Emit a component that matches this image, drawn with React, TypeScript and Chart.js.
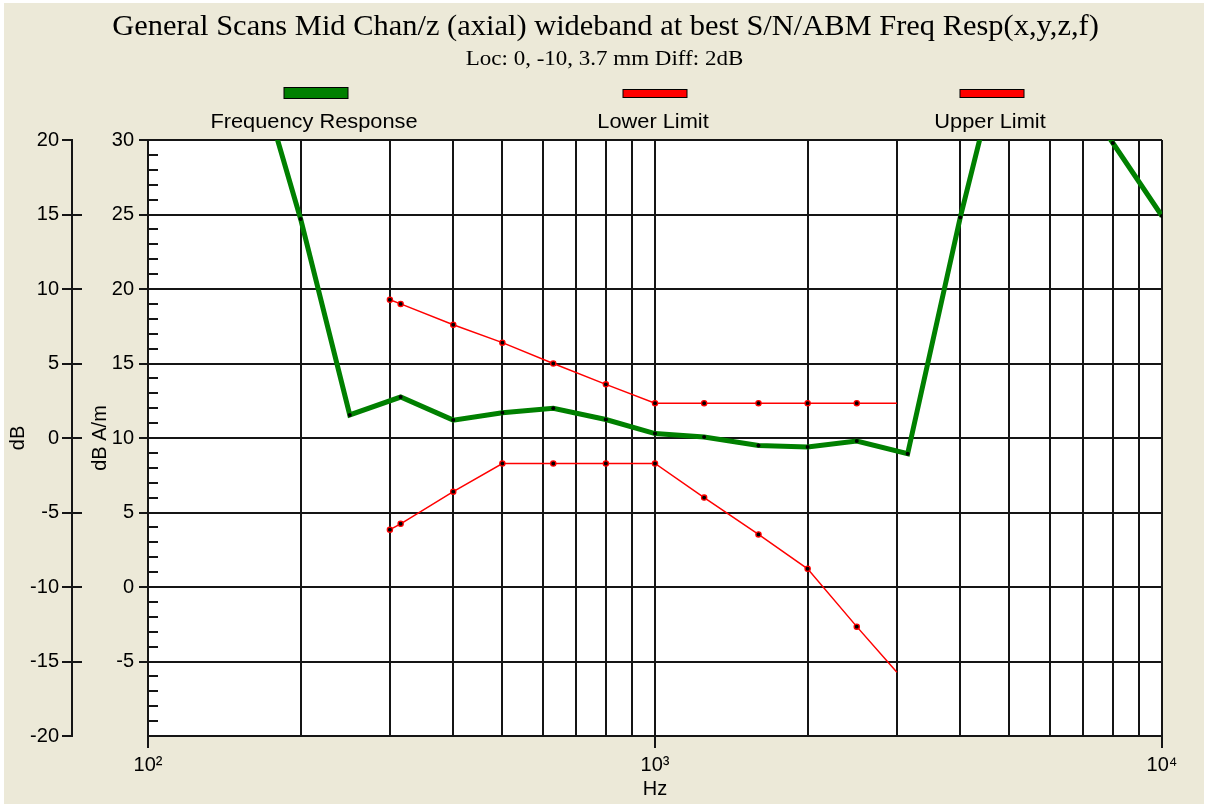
import React, { useEffect, useRef } from 'react';
import { Chart, registerables } from 'chart.js';

Chart.register(...registerables);

// ---------- data ----------
const chartTitle = 'General Scans Mid Chan/z (axial) wideband at best S/N/ABM Freq Resp(x,y,z,f)';
const chartSubtitle = 'Loc: 0, -10, 3.7 mm Diff: 2dB';

const seriesNames = ['Frequency Response', 'Lower Limit', 'Upper Limit'];

const responseHz = [160, 200, 250, 315, 400, 500, 630, 800, 1000, 1250, 1600, 2000, 2500, 3150, 4000, 5000, 6300, 8000, 10000];
const responseDb = [36, 24.7, 11.55, 12.75, 11.2, 11.7, 12.0, 11.24, 10.3, 10.07, 9.5, 9.4, 9.8, 8.94, 24.8, 38, 35, 29.8, 24.9];

const limitHz = [300, 315, 400, 500, 630, 800, 1000, 1250, 1600, 2000, 2500, 3000];
const lowerLimitDb = [3.85, 4.24, 6.4, 8.29, 8.29, 8.29, 8.29, 6.0, 3.53, 1.22, -2.66, -5.72];
const upperLimitDb = [19.28, 19.0, 17.6, 16.4, 15.0, 13.6, 12.34, 12.34, 12.34, 12.34, 12.34, 12.34];
const limitMarkerShown = [1, 1, 1, 1, 1, 1, 1, 1, 1, 1, 1, 0];

const xGridHz = [100, 200, 300, 400, 500, 600, 700, 800, 900, 1000, 2000, 3000, 4000, 5000, 6000, 7000, 8000, 9000, 10000];
const xDecadeLabels: Record<number, string> = { 100: '10²', 1000: '10³', 10000: '10⁴' };

const innerAxisMin = -10;
const innerAxisMax = 30;
const innerMajorStep = 5;
const outerAxisMin = -20;
const outerAxisMax = 20;
const outerStep = 5;

// ---------- style ----------
const BEIGE = '#ECE9D8';
const GRID = '#151515';
const GREEN = '#008000';
const RED = '#FF0000';
const SANS = '"Liberation Sans", Arial, sans-serif';
const SERIF = '"Liberation Serif", "Times New Roman", serif';

const legendCenters = [314, 653, 990];

function line(ctx: CanvasRenderingContext2D, x1: number, y1: number, x2: number, y2: number) {
  ctx.beginPath();
  ctx.moveTo(x1, y1);
  ctx.lineTo(x2, y2);
  ctx.stroke();
}

function stretchedText(ctx: CanvasRenderingContext2D, text: string, cx: number, cy: number, sx: number) {
  ctx.save();
  ctx.translate(cx, cy);
  ctx.scale(sx, 1);
  ctx.fillText(text, 0, 0);
  ctx.restore();
}

const backgroundPlugin = {
  id: 'bgPlugin',
  beforeDraw(chart: any) {
    const { ctx, width, height, chartArea } = chart;
    ctx.save();
    ctx.fillStyle = '#ffffff';
    ctx.fillRect(0, 0, width, height);
    ctx.fillStyle = BEIGE;
    ctx.fillRect(4, 3, width - 9, height - 3);
    ctx.fillStyle = '#ffffff';
    ctx.fillRect(chartArea.left, chartArea.top, chartArea.right - chartArea.left, chartArea.bottom - chartArea.top);
    ctx.restore();
  },
};

const axisExtrasPlugin = {
  id: 'axisExtras',
  beforeDatasetsDraw(chart: any) {
    const { ctx } = chart;
    const y = chart.scales.y;
    const y2 = chart.scales.y2;
    ctx.save();
    ctx.strokeStyle = GRID;
    ctx.lineWidth = 2;
    y.ticks.forEach((t: any) => {
      if (t.value % innerMajorStep !== 0) {
        const py = Math.round(y.getPixelForValue(t.value));
        line(ctx, y.right, py, y.right + 10, py);
      }
    });
    y2.ticks.forEach((t: any) => {
      if (t.value > y2.min && t.value < y2.max) {
        const py = Math.round(y2.getPixelForValue(t.value));
        line(ctx, y2.right, py, y2.right + 10, py);
      }
    });
    ctx.restore();
  },
};

const headerPlugin = {
  id: 'header',
  afterDraw(chart: any) {
    const { ctx, width } = chart;
    ctx.save();
    ctx.fillStyle = '#000';
    ctx.textAlign = 'center';
    ctx.textBaseline = 'middle';
    ctx.font = `29px ${SERIF}`;
    stretchedText(ctx, chartTitle, width / 2 + 1, 27, 1.05);
    ctx.font = `20px ${SERIF}`;
    stretchedText(ctx, chartSubtitle, width / 2, 60, 1.15);

    chart.data.datasets.forEach((ds: any, i: number) => {
      const cx = legendCenters[i] + 2;
      const h = i === 0 ? 11 : 8;
      const top = i === 0 ? 87.5 : 89.5;
      ctx.fillStyle = ds.borderColor;
      ctx.fillRect(cx - 32, top, 64, h);
      ctx.strokeStyle = '#000';
      ctx.lineWidth = 1;
      ctx.strokeRect(cx - 32, top, 64, h);
      ctx.fillStyle = '#000';
      ctx.font = `20px ${SANS}`;
      stretchedText(ctx, ds.label, legendCenters[i], 122, 1.09);
    });
    ctx.restore();
  },
};

function buildConfig(): any {
  const responsePts = responseHz.map((x, i) => ({ x, y: responseDb[i] }));
  const lowerPts = limitHz.map((x, i) => ({ x, y: lowerLimitDb[i] }));
  const upperPts = limitHz.map((x, i) => ({ x, y: upperLimitDb[i] }));
  const limitRadius = limitMarkerShown.map((s) => (s ? 2.6 : 0));

  const innerTicks: number[] = [];
  for (let v = innerAxisMin; v <= innerAxisMax; v++) innerTicks.push(v);

  return {
    type: 'line',
    data: {
      datasets: [
        {
          label: seriesNames[0],
          data: responsePts,
          borderColor: GREEN,
          backgroundColor: GREEN,
          borderWidth: 5,
          pointRadius: 2,
          pointBorderWidth: 0,
          pointBackgroundColor: '#000',
          tension: 0,
          yAxisID: 'y',
        },
        {
          label: seriesNames[1],
          data: lowerPts,
          borderColor: RED,
          backgroundColor: RED,
          borderWidth: 1.5,
          pointRadius: limitRadius,
          pointBorderWidth: 1.3,
          pointBorderColor: RED,
          pointBackgroundColor: '#000',
          tension: 0,
          yAxisID: 'y',
        },
        {
          label: seriesNames[2],
          data: upperPts,
          borderColor: RED,
          backgroundColor: RED,
          borderWidth: 1.5,
          pointRadius: limitRadius,
          pointBorderWidth: 1.3,
          pointBorderColor: RED,
          pointBackgroundColor: '#000',
          tension: 0,
          yAxisID: 'y',
        },
      ],
    },
    options: {
      animation: false,
      responsive: false,
      maintainAspectRatio: false,
      parsing: true,
      layout: { padding: { top: 140, right: 47, bottom: 0, left: 0 } },
      plugins: {
        legend: { display: false },
        title: { display: false },
        tooltip: { enabled: false },
      },
      scales: {
        x: {
          type: 'logarithmic',
          position: 'bottom',
          min: 100,
          max: 10000,
          afterBuildTicks: (scale: any) => {
            scale.ticks = xGridHz.map((v) => ({ value: v }));
          },
          afterFit: (scale: any) => {
            scale.height = 68;
          },
          grid: {
            color: GRID,
            lineWidth: 2,
            tickLength: 12,
            tickColor: (c: any) => (c.tick && xDecadeLabels[c.tick.value] ? GRID : 'transparent'),
          },
          border: { display: true, color: GRID, width: 2 },
          ticks: {
            autoSkip: false,
            maxRotation: 0,
            padding: 5,
            color: '#000',
            font: { family: SANS, size: 20 },
            callback: (v: any) => xDecadeLabels[Number(v)] || '',
          },
          title: {
            display: true,
            text: 'Hz',
            color: '#000',
            font: { family: SANS, size: 20, lineHeight: 1.2 },
            padding: { top: 0, bottom: 3 },
          },
        },
        y: {
          type: 'linear',
          position: 'left',
          weight: 0,
          min: innerAxisMin,
          max: innerAxisMax,
          afterBuildTicks: (scale: any) => {
            scale.ticks = innerTicks.map((v) => ({ value: v }));
          },
          afterFit: (scale: any) => {
            scale.width = 76;
          },
          grid: {
            color: (c: any) => (c.tick && c.tick.value % innerMajorStep === 0 ? GRID : 'transparent'),
            lineWidth: 2,
            tickLength: 9,
            tickColor: (c: any) =>
              c.tick && c.tick.value % innerMajorStep === 0 && c.tick.value !== innerAxisMin ? GRID : 'transparent',
          },
          border: { display: true, color: GRID, width: 2 },
          ticks: {
            autoSkip: false,
            padding: 5,
            color: '#000',
            font: { family: SANS, size: 20 },
            callback: (v: any) => {
              const n = Number(v);
              return n % innerMajorStep === 0 && n !== innerAxisMin ? String(n) : '';
            },
          },
          title: {
            display: true,
            text: 'dB A/m',
            color: '#000',
            font: { family: SANS, size: 20, lineHeight: 1.2 },
            padding: { top: 16, bottom: 0 },
          },
        },
        y2: {
          type: 'linear',
          position: 'left',
          weight: 1,
          min: outerAxisMin,
          max: outerAxisMax,
          afterFit: (scale: any) => {
            scale.width = 72;
          },
          grid: {
            drawOnChartArea: false,
            color: GRID,
            lineWidth: 2,
            tickLength: 10,
            tickColor: GRID,
          },
          border: { display: true, color: GRID, width: 2 },
          ticks: {
            stepSize: outerStep,
            autoSkip: false,
            padding: 3,
            color: '#000',
            font: { family: SANS, size: 20 },
          },
          title: {
            display: true,
            text: 'dB',
            color: '#000',
            font: { family: SANS, size: 20, lineHeight: 1.2 },
            padding: { top: 6, bottom: 0 },
          },
        },
      },
    },
    plugins: [backgroundPlugin, axisExtrasPlugin, headerPlugin],
  };
}

export default function App() {
  const ref = useRef<HTMLCanvasElement>(null);
  useEffect(() => {
    document.body.style.margin = '0';
    document.body.style.overflow = 'hidden';
    const canvas = ref.current;
    if (!canvas) return;
    const chart = new Chart(canvas, buildConfig());
    return () => chart.destroy();
  }, []);
  return (
    <canvas
      ref={ref}
      width={1209}
      height={804}
      style={{ display: 'block', width: 1209, height: 804 }}
    />
  );
}
